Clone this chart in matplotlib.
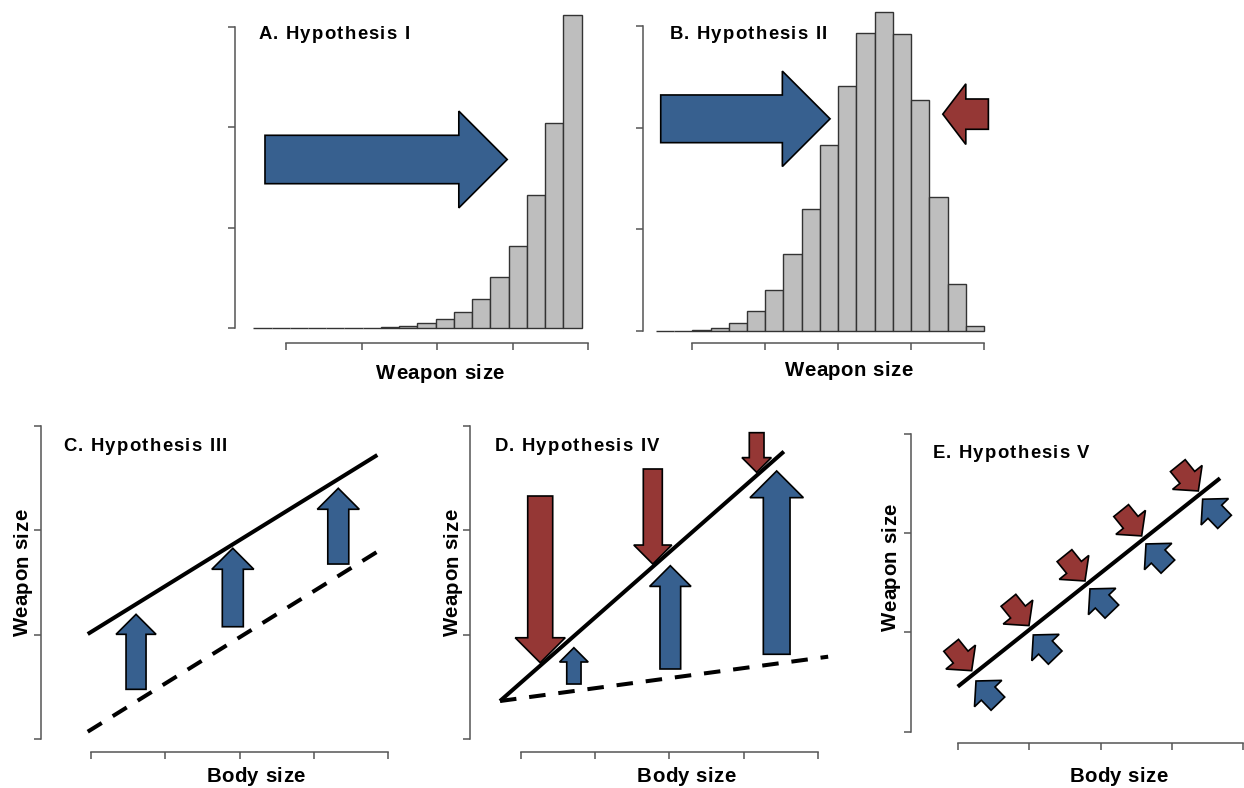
import numpy as np
import matplotlib
matplotlib.use("Agg")
import matplotlib.pyplot as plt
from matplotlib.patches import Polygon
from matplotlib.font_manager import FontProperties, findfont
from matplotlib.ft2font import FT2Font

plt.rcParams['font.family'] = ['Liberation Sans', 'DejaVu Sans']

W, H, DPI = 1244, 788, 100
PT = 72.0 / DPI                      # points per pixel
BLUE = '#37608F'
RED = '#953735'
AXIS_GREY = '#555555'
BAR_GREY = '#BEBEBE'

# ---------------- data ----------------
# Panel A: weapon-size distribution under directional selection
A_edges = np.linspace(-0.433, 3.911, 19)
A_counts = [0, 0, 1, 1, 2, 3, 6, 12, 23, 50, 95, 165, 288, 507, 815, 1328, 2041, 3114]
# Panel B: weapon-size distribution under stabilising selection
B_edges = np.arange(-0.5, 4.001, 0.25)
B_counts = [2, 3, 7, 27, 79, 194, 406, 757, 1200, 1829, 2410, 2928, 3135, 2918,
            2272, 1321, 465, 46]
hist_yticks = [0, 1000, 2000, 3000]
weapon_xticks = [0, 1, 2, 3, 4]

body_ticks = [0, 1, 2, 3, 4]
weapon_ticks = [0, 1, 2, 3]

# Panel A / B push arrows (weapon size, count level)
A_push_from, A_push_to, A_push_level = -0.278, 2.927, 1678
B_push_from, B_push_to, B_push_level = -0.433, 1.889, 2087
B_cost_from, B_cost_to, B_cost_level = 4.06, 3.435, 2133

# Panel C: allometry shifts upward
C_body = [-0.044, 3.852]
C_current = [1.006, 2.722]
C_ancestral = [0.070, 1.795]
C_up_x = [0.606, 1.908, 3.327]
C_up_from = [0.476, 1.076, 1.677]
C_up_to = [1.195, 1.828, 2.403]
C_up_w = [20, 21, 21]

# Panel D: slope steepens
D_body_current = [-0.283, 3.544]
D_current = [0.364, 2.755]
D_body_ancestral = [-0.283, 4.141]
D_ancestral = [0.364, 0.789]
D_down_x = [0.259, 1.777, 3.177]
D_down_from = [2.329, 2.588, 2.936]
D_down_to = [0.731, 1.677, 2.556]
D_down_w = [25, 19, 14.7]
D_up_x = [0.713, 2.013, 3.447]
D_up_from = [0.527, 0.671, 0.812]
D_up_to = [0.875, 1.661, 2.569]
D_up_w = [14.3, 20.7, 26.7]

# Panel E: stabilising selection around the allometric line
E_body = [-0.008, 3.681]
E_weapon = [0.454, 2.554]
E_red_x = [0.188, 0.994, 1.782, 2.579, 3.376]
E_red_y = [0.615, 1.069, 1.519, 1.973, 2.426]
E_blue_x = [0.249, 1.055, 1.852, 2.640, 3.437]
E_blue_y = [0.511, 0.975, 1.439, 1.892, 2.343]

fig = plt.figure(figsize=(W / DPI, H / DPI), dpi=DPI)


def panel(x0, x1, y0, y1, xlim, ylim, xticks, yticks, spine_x, spine_y):
    """Axes whose box spans the tick range; spines pushed out R-style."""
    ax = fig.add_axes([x0 / W, 1 - y0 / H, (x1 - x0) / W, (y0 - y1) / H])
    ax.set_xlim(xlim)
    ax.set_ylim(ylim)
    ax.patch.set_alpha(0)
    for s in ('top', 'right'):
        ax.spines[s].set_visible(False)
    ax.spines['left'].set_position(('outward', (x0 - spine_x) * PT))
    ax.spines['bottom'].set_position(('outward', (spine_y - y0) * PT))
    for s in ('left', 'bottom'):
        ax.spines[s].set_color(AXIS_GREY)
        ax.spines[s].set_linewidth(1.1)
    ax.set_xticks(xticks)
    ax.set_yticks(yticks)
    ax.tick_params(labelbottom=False, labelleft=False, length=5, width=1.1,
                   color=AXIS_GREY, direction='out')
    return ax


def block_arrow(ax, tail, tip, width_px, color, head_ratio=1.0):
    T = ax.transData
    p0 = T.transform(tail)
    p1 = T.transform(tip)
    d = p1 - p0
    u = d / np.hypot(*d)
    n = np.array([-u[1], u[0]])
    hw = width_px / 2.0
    base = p1 - u * width_px * head_ratio
    pts = [p0 + n * hw, base + n * hw, base + n * 2 * hw, p1,
           base - n * 2 * hw, base - n * hw, p0 - n * hw]
    ax.add_patch(Polygon(T.inverted().transform(pts), closed=True, fc=color,
                         ec='black', lw=1.2, joinstyle='miter', clip_on=False,
                         zorder=5))


def dir_arrow(ax, tip, angle_deg, length_px, width_px, color, head_ratio):
    T = ax.transData
    p1 = T.transform(tip)
    a = np.deg2rad(angle_deg)
    u = np.array([np.cos(a), np.sin(a)])
    p0 = p1 - u * length_px
    block_arrow(ax, T.inverted().transform(p0), tip, width_px, color, head_ratio)


BOLD = FontProperties(family='Liberation Sans', weight='bold')
FONT = FT2Font(findfont(BOLD))


def spaced_text(x, y, s, size, tracking=0.0, align='left', rotation=0):
    """Bold text placed glyph by glyph with extra tracking (pixel units)."""
    FONT.set_size(size, DPI)
    adv = [FONT.load_char(ord(ch)).linearHoriAdvance / 65536.0 for ch in s]
    total = sum(adv) + tracking * (len(s) - 1)
    a = np.deg2rad(rotation)
    u = np.array([np.cos(a), -np.sin(a)])       # direction in image pixels
    start = np.array([x, y], float)
    if align == 'center':
        start -= u * total / 2.0
    pos = 0.0
    for ch, w in zip(s, adv):
        px, py = start + u * pos
        if ch != ' ':
            fig.text(px / W, 1 - py / H, ch, fontproperties=BOLD, fontsize=size,
                     ha='left', va='baseline', rotation=rotation,
                     rotation_mode='anchor')
        pos += w + tracking


TITLE_SIZE = 13.3
TITLE_TRACK = 1.25
LABEL_SIZE = 14.7
LABEL_TRACK = 0.4

# ---------------- A ----------------
axA = panel(286, 588.3, 328.3, 26.5, (0, 4), (0, 3000), weapon_xticks, hist_yticks,
            235, 343.3)
axA.bar(A_edges[:-1], A_counts, width=np.diff(A_edges), align='edge',
        color=BAR_GREY, edgecolor='#333333', linewidth=1.0, clip_on=False)
block_arrow(axA, (A_push_from, A_push_level), (A_push_to, A_push_level), 48.4, BLUE)
spaced_text(258.3, 39.3, 'A. Hypothesis I', TITLE_SIZE, TITLE_TRACK)
spaced_text(440, 379, 'Weapon size', LABEL_SIZE, LABEL_TRACK, 'center')

# ---------------- B ----------------
axB = panel(692.3, 984, 331, 26, (0, 4), (0, 3000), weapon_xticks, hist_yticks,
            643.3, 343.3)
axB.bar(B_edges[:-1], B_counts, width=np.diff(B_edges), align='edge',
        color=BAR_GREY, edgecolor='#333333', linewidth=1.0, clip_on=False)
block_arrow(axB, (B_push_from, B_push_level), (B_push_to, B_push_level), 47.7, BLUE)
block_arrow(axB, (B_cost_from, B_cost_level), (B_cost_to, B_cost_level), 30.3, RED,
            head_ratio=0.76)
spaced_text(669.3, 39.3, 'B. Hypothesis II', TITLE_SIZE, TITLE_TRACK)
spaced_text(848.5, 376, 'Weapon size', LABEL_SIZE, LABEL_TRACK, 'center')

LINE_W = 2.9
DASH = (0, (4.1, 3.2))

# ---------------- C ----------------
axC = panel(91, 388.3, 739, 426, (0, 4), (0, 3), body_ticks, weapon_ticks, 41, 751.7)
axC.plot(C_body, C_current, color='black', lw=LINE_W, clip_on=False,
         solid_capstyle='butt')
axC.plot(C_body, C_ancestral, color='black', lw=LINE_W, ls=DASH, clip_on=False)
for x, y0, y1, w in zip(C_up_x, C_up_from, C_up_to, C_up_w):
    block_arrow(axC, (x, y0), (x, y1), w, BLUE)
spaced_text(63.3, 451, 'C. Hypothesis III', TITLE_SIZE, TITLE_TRACK)
spaced_text(255.5, 781.7, 'Body size', LABEL_SIZE, LABEL_TRACK, 'center')
spaced_text(27.7, 572.5, 'Weapon size', LABEL_SIZE, LABEL_TRACK, 'center', 90)

# ---------------- D ----------------
axD = panel(521, 817.7, 739, 426, (0, 4), (0, 3), body_ticks, weapon_ticks, 470, 751.7)
axD.plot(D_body_current, D_current, color='black', lw=LINE_W, clip_on=False,
         solid_capstyle='butt')
axD.plot(D_body_ancestral, D_ancestral, color='black', lw=LINE_W, ls=DASH,
         clip_on=False)
for x, y0, y1, w in zip(D_down_x, D_down_from, D_down_to, D_down_w):
    block_arrow(axD, (x, y0), (x, y1), w, RED)
for x, y0, y1, w in zip(D_up_x, D_up_from, D_up_to, D_up_w):
    block_arrow(axD, (x, y0), (x, y1), w, BLUE)
spaced_text(494.3, 451, 'D. Hypothesis IV', TITLE_SIZE, TITLE_TRACK)
spaced_text(686, 781.7, 'Body size', LABEL_SIZE, LABEL_TRACK, 'center')
spaced_text(457.7, 572.5, 'Weapon size', LABEL_SIZE, LABEL_TRACK, 'center', 90)

# ---------------- E ----------------
axE = panel(958.3, 1242.7, 731.7, 434, (0, 4), (0, 3), body_ticks, weapon_ticks,
            910.7, 743.3)
axE.plot(E_body, E_weapon, color='black', lw=LINE_W, clip_on=False,
         solid_capstyle='butt')
for x, y in zip(E_red_x, E_red_y):
    dir_arrow(axE, (x, y), -51, 32.6, 19, RED, 0.92)
for x, y in zip(E_blue_x, E_blue_y):
    dir_arrow(axE, (x, y), 134, 31.5, 19, BLUE, 0.92)
spaced_text(932.3, 457.7, 'E. Hypothesis V', TITLE_SIZE, TITLE_TRACK)
spaced_text(1118.3, 782.3, 'Body size', LABEL_SIZE, LABEL_TRACK, 'center')
spaced_text(896, 567, 'Weapon size', LABEL_SIZE, LABEL_TRACK, 'center', 90)

fig.savefig('out.png', dpi=DPI)
